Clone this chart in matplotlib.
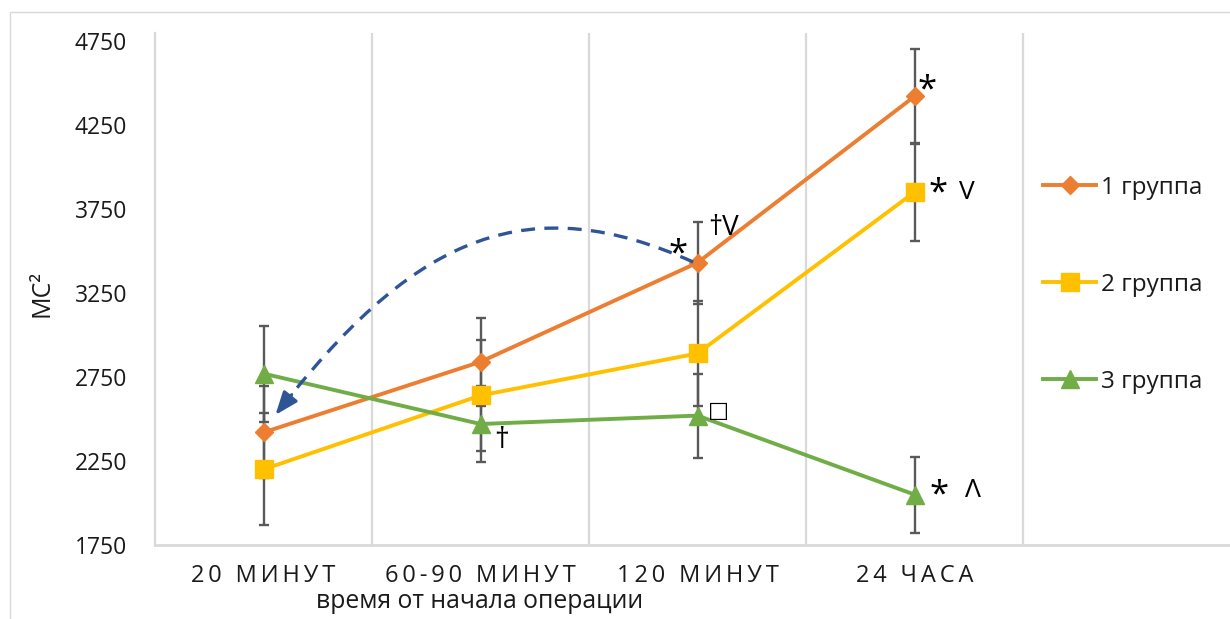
import matplotlib.pyplot as plt
from matplotlib.path import Path
from matplotlib.patches import PathPatch, Rectangle

plt.rcParams['font.family'] = ['Open Sans', 'DejaVu Sans']

# time points and group means / errors
periods = ['20 МИНУТ', '60-90 МИНУТ', '120 МИНУТ', '24 ЧАСА']
group1 = [2420, 2840, 3430, 4420]
group1_err = [274, 262, 244, 283]
group2 = [2200, 2640, 2890, 3850]
group2_err = [333, 330, 310, 292]
group3 = [2770, 2470, 2520, 2050]
group3_err = [286, 229, 250, 226]
y_ticks = [1750, 2250, 2750, 3250, 3750, 4250, 4750]
labels = ['1 группа', '2 группа', '3 группа']

# significance marks: (series, point, text, dx, dy, size) offsets in points
marks = [
    (0, 2, '*', -14, 6, 25),
    (0, 2, '†V', 19, 25, 20),
    (2, 2, '□', 15, 3, 16),
    (2, 1, '†', 15, -12, 21),
    (0, 3, '*', 9, 4, 25),
    (1, 3, '*', 17, -1, 25),
    (1, 3, 'V', 38, 0, 19),
    (2, 3, '*', 18, -1, 25),
    (2, 3, 'Λ', 42, 3, 19),
]

colors = ['#ED7D31', '#FFC000', '#70AD47']
markers = ['D', 's', '^']
msizes = [9, 13, 13]
grid_c = '#D9D9D9'

fig = plt.figure(figsize=(12.3, 6.19), dpi=100)
ax = fig.add_axes([155 / 1230, 74 / 619, 1085 / 1230, 512 / 619])

x = list(range(len(periods)))
series = [(group1, group1_err), (group2, group2_err), (group3, group3_err)]
lines = []
for i, (vals, err) in enumerate(series):
    ax.errorbar(x, vals, yerr=err, fmt='none', ecolor='#595959',
                elinewidth=1.7, capsize=3.8, capthick=1.7, zorder=2)
    ln, = ax.plot(x, vals, color=colors[i], lw=2.8, marker=markers[i],
                  ms=msizes[i], mec=colors[i], label=labels[i], zorder=3 + i)
    lines.append(ln)

for s, p, txt, dx, dy, size in marks:
    vals = series[s][0]
    ax.annotate(txt, xy=(p, vals[p]), xytext=(dx, dy), textcoords='offset points',
                ha='center', va='center', fontsize=size, color='black', zorder=6)

# dashed curved arrow from the 120-minute point back to 20 minutes
arrow_c = '#2F5597'
verts = [(1.98, 3434), (1.226, 3875), (0.714, 3589), (0.12, 2630)]
curve = Path(verts, [Path.MOVETO, Path.CURVE4, Path.CURVE4, Path.CURVE4])
ax.add_patch(PathPatch(curve, fill=False, ec=arrow_c, lw=2.4,
                       linestyle=(0, (4.2, 2.8)), zorder=7))
ax.annotate('', xy=(0.055, 2524), xytext=(0.13, 2645),
            arrowprops=dict(arrowstyle='-|>,head_length=0.7,head_width=0.27',
                            mutation_scale=20, color=arrow_c, lw=2.2,
                            shrinkA=0, shrinkB=0), zorder=7)

ax.set_xlim(-0.5, 4.5)
ax.set_ylim(1750, 4797)
ax.set_yticks(y_ticks)
ax.set_xticks(x)
ax.set_xticklabels(['\u2009'.join(p) for p in periods], fontsize=17)
ax.set_xticks([0.5, 1.5, 2.5, 3.5], minor=True)
ax.tick_params(axis='y', length=0, pad=20, labelsize=16.5, labelcolor='#1a1a1a')
ax.tick_params(axis='x', which='both', length=0, pad=14, labelcolor='#1a1a1a')
ax.grid(axis='x', which='minor', color=grid_c, lw=1.6)
for side in ['top', 'right']:
    ax.spines[side].set_visible(False)
ax.spines['left'].set_color(grid_c)
ax.spines['left'].set_linewidth(1.6)
ax.spines['bottom'].set_color(grid_c)
ax.spines['bottom'].set_linewidth(2)

fig.text(42 / 1230, 1 - 293 / 619, 'МС²', rotation=90, ha='center', va='center',
         fontsize=18, color='#1a1a1a')
fig.text(480 / 1230, 1 - 602 / 619, 'время от начала операции', ha='center',
         va='center', fontsize=17.8, color='#1a1a1a')

fig.legend(handles=lines, loc='upper left', bbox_to_anchor=(1043 / 1230, 1 - 176 / 619),
           frameon=False, fontsize=17.5, borderpad=0, borderaxespad=0,
           handlelength=2.2, handletextpad=0.2, labelspacing=3.0, labelcolor='#1a1a1a')

fig.patches.append(Rectangle((10 / 1230, -0.1), 1.2, (619 - 12) / 619 + 0.1,
                             transform=fig.transFigure, fill=False, ec=grid_c, lw=1))

fig.savefig('out.png', dpi=100)
